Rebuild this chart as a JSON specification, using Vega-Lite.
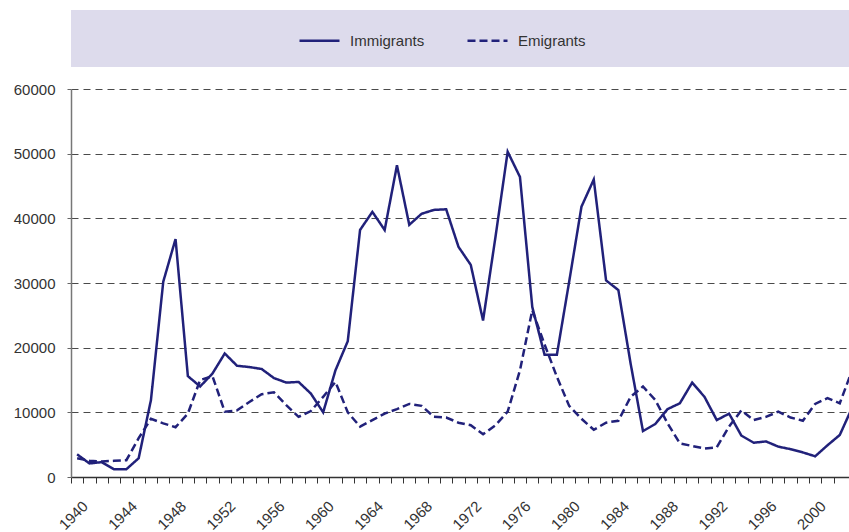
{
  "$schema": "https://vega.github.io/schema/vega-lite/v6.json",
  "padding": {"left": 13, "top": 10, "right": 0, "bottom": 0},
  "background": "white",
  "config": {
    "font": "Liberation Sans, Arial, sans-serif",
    "view": {"stroke": null}
  },
  "bounds": "flush",
  "spacing": 22,
  "vconcat": [
    {
      "width": 778,
      "height": 57,
      "view": {"fill": "#dddbec", "stroke": null},
      "data": {"values": [{}]},
      "mark": {"type": "point", "opacity": 0},
      "encoding": {}
    },
    {
      "width": 778,
      "height": 388,
      "data": {
        "values": [
          {"year": 1940, "Immigrants": 3500, "Emigrants": 2900},
          {"year": 1941, "Immigrants": 2100, "Emigrants": 2500},
          {"year": 1942, "Immigrants": 2300, "Emigrants": 2400},
          {"year": 1943, "Immigrants": 1200, "Emigrants": 2500},
          {"year": 1944, "Immigrants": 1200, "Emigrants": 2600},
          {"year": 1945, "Immigrants": 2900, "Emigrants": 6000},
          {"year": 1946, "Immigrants": 11900, "Emigrants": 9000},
          {"year": 1947, "Immigrants": 30200, "Emigrants": 8300},
          {"year": 1948, "Immigrants": 36800, "Emigrants": 7700},
          {"year": 1949, "Immigrants": 15600, "Emigrants": 9800},
          {"year": 1950, "Immigrants": 14000, "Emigrants": 15000},
          {"year": 1951, "Immigrants": 16000, "Emigrants": 15600},
          {"year": 1952, "Immigrants": 19100, "Emigrants": 10100},
          {"year": 1953, "Immigrants": 17200, "Emigrants": 10300},
          {"year": 1954, "Immigrants": 17000, "Emigrants": 11600},
          {"year": 1955, "Immigrants": 16700, "Emigrants": 12800},
          {"year": 1956, "Immigrants": 15300, "Emigrants": 13100},
          {"year": 1957, "Immigrants": 14600, "Emigrants": 11100},
          {"year": 1958, "Immigrants": 14700, "Emigrants": 9300},
          {"year": 1959, "Immigrants": 12900, "Emigrants": 10200},
          {"year": 1960, "Immigrants": 10000, "Emigrants": 12400},
          {"year": 1961, "Immigrants": 16500, "Emigrants": 14700},
          {"year": 1962, "Immigrants": 21000, "Emigrants": 10000},
          {"year": 1963, "Immigrants": 38200, "Emigrants": 7800},
          {"year": 1964, "Immigrants": 41000, "Emigrants": 8800},
          {"year": 1965, "Immigrants": 38200, "Emigrants": 9800},
          {"year": 1966, "Immigrants": 48200, "Emigrants": 10500},
          {"year": 1967, "Immigrants": 39000, "Emigrants": 11300},
          {"year": 1968, "Immigrants": 40700, "Emigrants": 11000},
          {"year": 1969, "Immigrants": 41300, "Emigrants": 9300},
          {"year": 1970, "Immigrants": 41400, "Emigrants": 9200},
          {"year": 1971, "Immigrants": 35600, "Emigrants": 8400},
          {"year": 1972, "Immigrants": 32800, "Emigrants": 8000},
          {"year": 1973, "Immigrants": 24200, "Emigrants": 6600},
          {"year": 1974, "Immigrants": 37000, "Emigrants": 8000},
          {"year": 1975, "Immigrants": 50300, "Emigrants": 10100},
          {"year": 1976, "Immigrants": 46400, "Emigrants": 16500},
          {"year": 1977, "Immigrants": 26300, "Emigrants": 25800},
          {"year": 1978, "Immigrants": 18900, "Emigrants": 20500},
          {"year": 1979, "Immigrants": 18900, "Emigrants": 15500},
          {"year": 1980, "Immigrants": 30200, "Emigrants": 11000},
          {"year": 1981, "Immigrants": 41800, "Emigrants": 9000},
          {"year": 1982, "Immigrants": 46000, "Emigrants": 7300},
          {"year": 1983, "Immigrants": 30400, "Emigrants": 8400},
          {"year": 1984, "Immigrants": 28900, "Emigrants": 8700},
          {"year": 1985, "Immigrants": 17500, "Emigrants": 12400},
          {"year": 1986, "Immigrants": 7100, "Emigrants": 14000},
          {"year": 1987, "Immigrants": 8200, "Emigrants": 11900},
          {"year": 1988, "Immigrants": 10500, "Emigrants": 8300},
          {"year": 1989, "Immigrants": 11400, "Emigrants": 5200},
          {"year": 1990, "Immigrants": 14600, "Emigrants": 4800},
          {"year": 1991, "Immigrants": 12400, "Emigrants": 4400},
          {"year": 1992, "Immigrants": 8800, "Emigrants": 4600},
          {"year": 1993, "Immigrants": 9800, "Emigrants": 7800},
          {"year": 1994, "Immigrants": 6400, "Emigrants": 10300},
          {"year": 1995, "Immigrants": 5300, "Emigrants": 8800},
          {"year": 1996, "Immigrants": 5500, "Emigrants": 9300},
          {"year": 1997, "Immigrants": 4700, "Emigrants": 10100},
          {"year": 1998, "Immigrants": 4300, "Emigrants": 9200},
          {"year": 1999, "Immigrants": 3800, "Emigrants": 8700},
          {"year": 2000, "Immigrants": 3200, "Emigrants": 11300},
          {"year": 2001, "Immigrants": 4900, "Emigrants": 12200},
          {"year": 2002, "Immigrants": 6500, "Emigrants": 11400},
          {"year": 2003, "Immigrants": 10700, "Emigrants": 16500}
        ]
      },
      "transform": [{"fold": ["Immigrants", "Emigrants"], "as": ["series", "value"]}],
      "mark": {"type": "line", "color": "#21217a", "strokeWidth": 2.5, "clip": true},
      "encoding": {
        "x": {
          "field": "year",
          "type": "quantitative",
          "scale": {"domain": [1939.5, 2002.75], "nice": false, "zero": false},
          "axis": {
            "title": null,
            "values": [1940,1941,1942,1943,1944,1945,1946,1947,1948,1949,1950,1951,1952,1953,1954,1955,1956,1957,1958,1959,1960,1961,1962,1963,1964,1965,1966,1967,1968,1969,1970,1971,1972,1973,1974,1975,1976,1977,1978,1979,1980,1981,1982,1983,1984,1985,1986,1987,1988,1989,1990,1991,1992,1993,1994,1995,1996,1997,1998,1999,2000,2001,2002,2003],
            "format": "d",
            "labelExpr": "datum.value % 4 == 0 ? datum.label : ''",
            "tickOffset": -6.15,
            "labelOffset": 2,
            "labelAngle": -45,
            "labelAlign": "center",
            "labelBaseline": "middle",
            "labelPadding": 32,
            "labelFontSize": 15,
            "labelColor": "#333333",
            "labelOverlap": false,
            "labelFlush": false,
            "labelBound": false,
            "tickSize": 6,
            "tickColor": "#333333",
            "domainColor": "#333333",
            "domainWidth": 1.5,
            "grid": false
          }
        },
        "y": {
          "field": "value",
          "type": "quantitative",
          "scale": {"domain": [0, 60000], "nice": false},
          "axis": {
            "title": null,
            "values": [0, 10000, 20000, 30000, 40000, 50000, 60000],
            "format": "d",
            "grid": true,
            "gridDash": [7, 5],
            "gridColor": "#4a4a4a",
            "gridWidth": 1,
            "tickSize": 4,
            "tickColor": "#666666",
            "domainColor": "#777777",
            "domainWidth": 1.5,
            "labelFontSize": 15,
            "labelColor": "#333333",
            "labelPadding": 12
          }
        },
        "strokeDash": {
          "field": "series",
          "type": "nominal",
          "scale": {"domain": ["Immigrants", "Emigrants"], "range": [[1, 0], [8, 4]]},
          "legend": {
            "title": null,
            "orient": "none",
            "legendX": 227,
            "legendY": 9,
            "direction": "horizontal",
            "symbolType": "stroke",
            "symbolSize": 1600,
            "symbolStrokeWidth": 2.5,
            "symbolStrokeColor": "#21217a",
            "labelFontSize": 15,
            "labelColor": "#333333",
            "labelOffset": 9,
            "columnPadding": 37,
            "padding": 0
          }
        }
      }
    }
  ]
}
